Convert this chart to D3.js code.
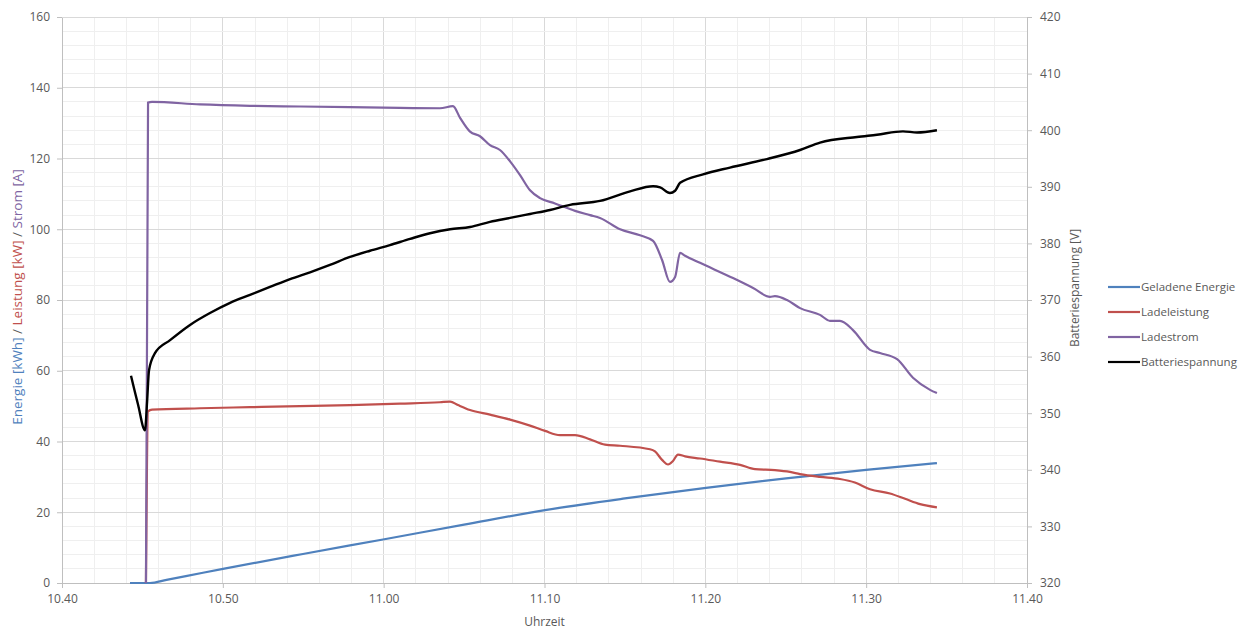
<!DOCTYPE html>
<html><head><meta charset="utf-8">
<script src="https://cdn.jsdelivr.net/npm/d3@7"></script>
<style>body{margin:0;background:#fff;} text{font-family:"Open Sans","Liberation Sans",sans-serif;}</style>
</head><body><svg id="c" width="1250" height="632"></svg>
<script>
// minutes after 10:40
const xTickLabels = ["10.40","10.50","11.00","11.10","11.20","11.30","11.40"];
const leftTicks = [0,20,40,60,80,100,120,140,160];
const rightTicks = [320,330,340,350,360,370,380,390,400,410,420];
const seriesNames = ["Geladene Energie","Ladeleistung","Ladestrom","Batteriespannung"];

const energyT = [4.23,5.47,6.5,7.7,10.01,14.98,19.96,25.0,30.03,35.0,40.04,45.02,50.0,54.4];
const energyV = [0,0,0.9,1.95,4.0,8.2,12.3,16.5,20.6,23.9,26.9,29.6,32.0,33.9];

const powerT = [5.22,5.35,5.6,8.58,11.69,14.8,17.91,21.02,23.5,24.13,24.62,25.37,26.61,27.86,29.1,30.03,30.96,31.9,32.83,33.76,34.7,36.56,36.87,37.31,37.68,37.99,38.3,38.74,39.67,40.91,42.16,43.09,44.33,45.26,45.89,47.13,48.37,49.3,50.24,51.48,52.42,53.35,54.4];
const powerV = [0,48.5,49,49.4,49.7,50,50.3,50.7,51.1,51.3,50.3,48.9,47.6,46.2,44.5,43,41.8,41.8,40.6,39.1,38.8,37.8,37.2,34.8,33.5,34.5,36.3,35.8,35.2,34.3,33.4,32.2,31.9,31.4,30.8,30,29.4,28.4,26.5,25.3,23.8,22.3,21.4];

const currentT = [5.22,5.35,5.6,8.58,11.69,14.8,17.91,21.02,23.5,24.31,24.75,25.37,25.99,26.61,27.23,27.86,28.48,29.1,29.72,30.65,31.9,32.83,33.45,34.7,35.94,36.75,37.31,37.8,38.12,38.43,38.74,39.67,41.72,42.97,44.02,44.33,45.08,45.89,47.13,47.75,48.37,49.18,50.24,50.86,51.92,52.91,53.97,54.4];
const currentV = [0,135.8,136,135.3,134.9,134.7,134.5,134.3,134.2,134.8,131.5,127.6,126.3,123.8,122.4,119.2,115.3,111,108.8,107.3,105.2,104,103.2,100,98.3,96.7,91.3,85.1,86.5,93.3,92.5,90.5,86.2,83.4,80.9,81.1,80,77.7,75.8,74.1,74.1,71.5,65.9,65,63.3,58,54.6,53.7];

const voltT = [4.29,4.73,5.16,5.29,5.41,5.78,6.72,7.96,9.2,10.45,11.69,12.93,14.18,15.42,16.66,17.91,19.15,20.39,21.64,22.88,24.13,25.37,26.61,27.86,29.1,30.34,31.59,33.45,35.32,36.75,37.19,37.8,38.12,38.43,39.86,41.53,43.83,45.89,47.13,49.43,50.67,52.29,53.16,54.4];
const voltV = [356.6,351.5,347.0,352,357.6,360.6,362.9,365.6,367.7,369.5,370.9,372.3,373.7,374.9,376.2,377.6,378.7,379.7,380.8,381.8,382.5,382.9,383.8,384.5,385.2,385.9,386.8,387.5,389.2,390.1,389.9,388.9,389.3,390.7,392.2,393.4,394.9,396.5,397.8,398.8,399.2,399.8,399.6,400];

const svg = d3.select("#c");
const L = 62, R = 1027, T = 17, B = 583;
const x = d3.scaleLinear().domain([0,60]).range([L,R]);
const yL = d3.scaleLinear().domain([0,160]).range([B,T]);
const yR = d3.scaleLinear().domain([320,420]).range([B,T]);

// gridlines
const g = svg.append("g");
g.selectAll(".vmin").data(d3.range(0,61,2)).join("line")
  .attr("x1",d=>x(d)).attr("x2",d=>x(d)).attr("y1",T).attr("y2",B)
  .attr("stroke", d=> d%10===0 ? "#d9d9d9" : "#efefef").attr("stroke-width",1).attr("shape-rendering","crispEdges");
g.selectAll(".hmin").data(d3.range(0,161,4)).join("line")
  .attr("x1",L).attr("x2",R).attr("y1",d=>yL(d)).attr("y2",d=>yL(d))
  .attr("stroke", d=> d%20===0 ? "#d9d9d9" : "#efefef").attr("stroke-width",1).attr("shape-rendering","crispEdges");

// axes
const axCol = "#bfbfbf", txtCol = "#595959";
function style(sel){
  sel.select(".domain").attr("stroke",axCol);
  sel.selectAll(".tick line").attr("stroke",axCol);
  sel.selectAll(".tick text").attr("fill",txtCol).style("font-size","12px");
}
const xAxis = svg.append("g").attr("transform",`translate(0,${B})`)
  .call(d3.axisBottom(x).tickValues(d3.range(0,61,10)).tickFormat((d,i)=>xTickLabels[i]).tickSize(5).tickSizeOuter(0).tickPadding(6));
style(xAxis);
const yAxisL = svg.append("g").attr("transform",`translate(${L},0)`)
  .call(d3.axisLeft(yL).tickValues(leftTicks).tickFormat(d3.format("d")).tickSize(5).tickSizeOuter(0).tickPadding(7));
style(yAxisL);
const yAxisR = svg.append("g").attr("transform",`translate(${R},0)`)
  .call(d3.axisRight(yR).tickValues(rightTicks).tickFormat(d3.format("d")).tickSize(5).tickSizeOuter(0).tickPadding(8));
style(yAxisR);
svg.selectAll(".domain").attr("shape-rendering","crispEdges");

// series
const colors = ["#4f81bd","#c0504d","#8064a2","#000000"];
const lineL = d3.line().x(d=>x(d[0])).y(d=>yL(d[1])).curve(d3.curveMonotoneX);
const lineR = d3.line().x(d=>x(d[0])).y(d=>yR(d[1])).curve(d3.curveMonotoneX);
const zip = (a,b)=>a.map((t,i)=>[t,b[i]]);
svg.append("path").attr("d",lineL(zip(energyT,energyV))).attr("fill","none").attr("stroke",colors[0]).attr("stroke-width",2.2);
svg.append("path").attr("d",lineL(zip(powerT,powerV))).attr("fill","none").attr("stroke",colors[1]).attr("stroke-width",2.2);
svg.append("path").attr("d",lineL(zip(currentT,currentV))).attr("fill","none").attr("stroke",colors[2]).attr("stroke-width",2.2);
svg.append("path").attr("d",lineR(zip(voltT,voltV))).attr("fill","none").attr("stroke",colors[3]).attr("stroke-width",2.4);

// axis titles
svg.append("text").attr("x",(L+R)/2).attr("y",626).attr("text-anchor","middle").attr("fill",txtCol).style("font-size","12px").text("Uhrzeit");
const lt = svg.append("text").attr("transform",`translate(22,${(T+B)/2 - 3}) rotate(-90)`).attr("text-anchor","middle").style("font-size","13.5px");
lt.append("tspan").attr("fill",colors[0]).text("Energie [kWh]");
lt.append("tspan").attr("fill",txtCol).text(" / ");
lt.append("tspan").attr("fill",colors[1]).text("Leistung [kW]");
lt.append("tspan").attr("fill",txtCol).text(" / ");
lt.append("tspan").attr("fill",colors[2]).text("Strom [A]");
svg.append("text").attr("transform",`translate(1079,${(T+B)/2 - 12}) rotate(-90)`).attr("text-anchor","middle").attr("fill",txtCol).style("font-size","12px").text("Batteriespannung [V]");

// legend
const lg = svg.append("g").attr("transform","translate(1108,287)");
seriesNames.forEach((n,i)=>{
  const gy = i*25;
  lg.append("line").attr("x1",0).attr("x2",32).attr("y1",gy).attr("y2",gy).attr("stroke",colors[i]).attr("stroke-width",2.2);
  lg.append("text").attr("x",33).attr("y",gy+4).attr("fill",txtCol).style("font-size","11.5px").text(n);
});
</script></body></html>
